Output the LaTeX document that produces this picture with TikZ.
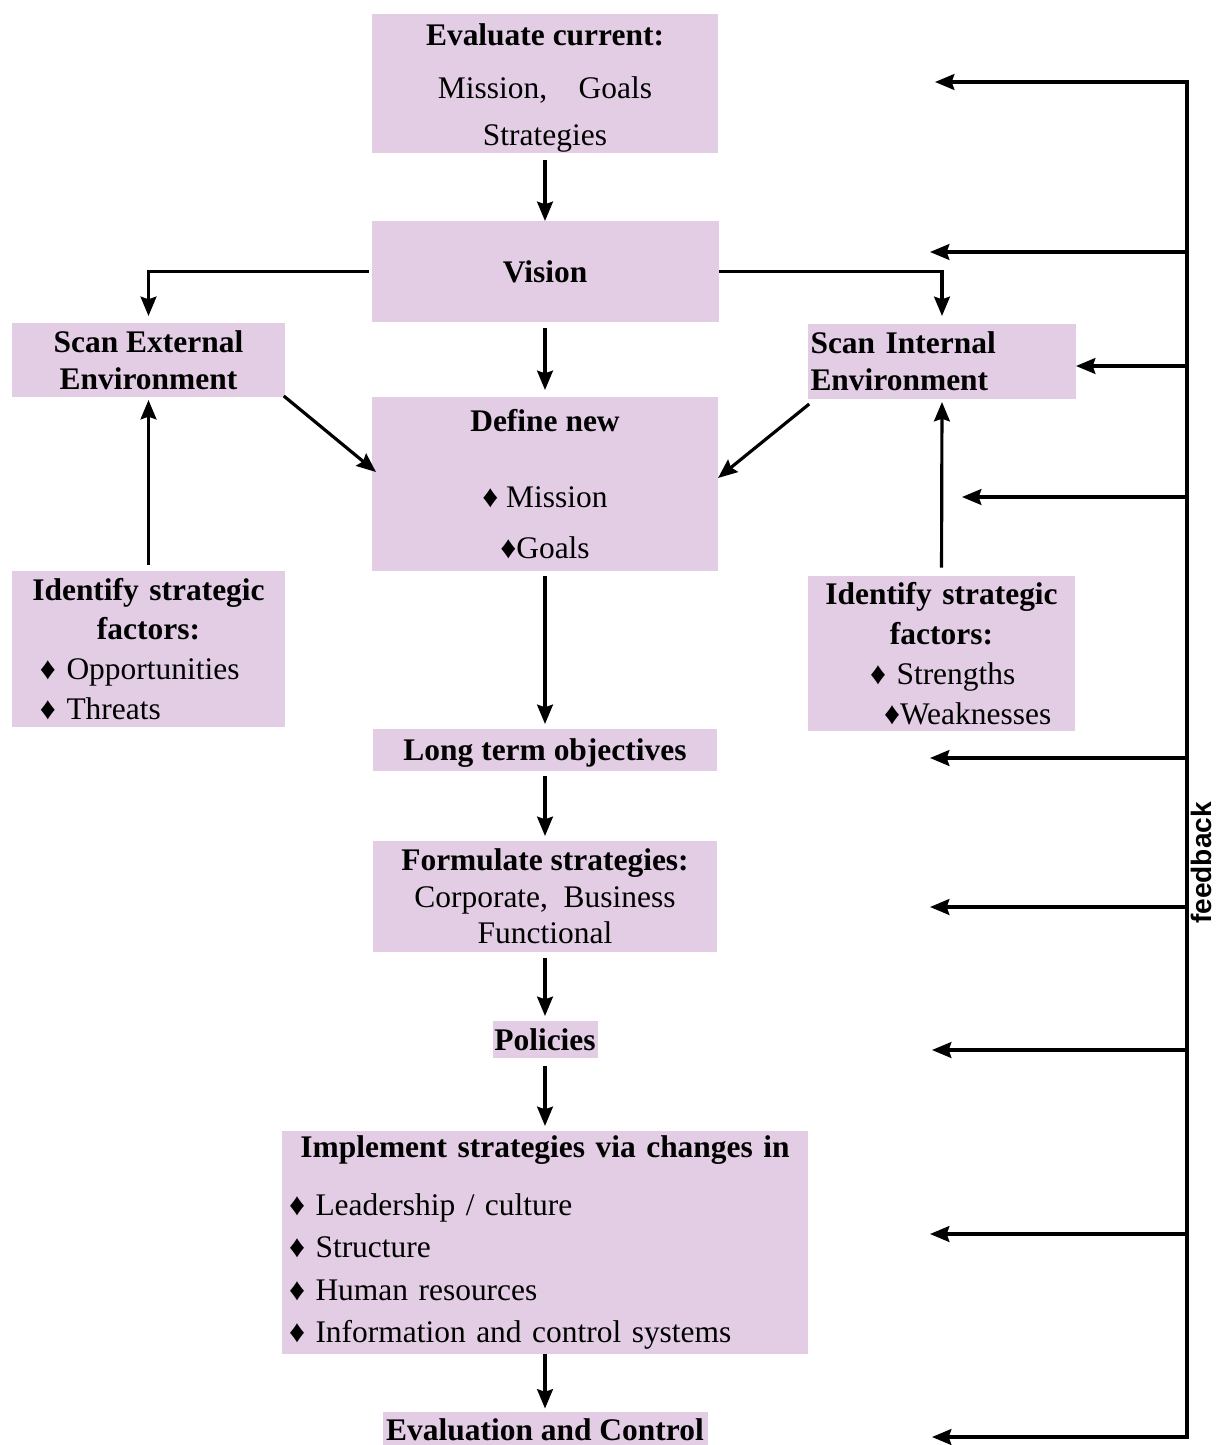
\documentclass[tikz,border=0pt]{standalone}
\usepackage{fontspec}
\setmainfont{Liberation Serif}
\setsansfont{Liberation Sans}
\usepackage{xcolor}
\usepackage{tikz}
\usetikzlibrary{arrows.meta}

\definecolor{boxfill}{RGB}{226,205,228}

\begin{document}
\begin{tikzpicture}
\tikzstyle{arrow} = [line width=1.8pt,line cap=rect,->,>={Stealth[length=11pt,width=9pt,inset=1.5pt]}]
\tikzstyle{line} = [line width=1.8pt,line cap=rect]
\tikzstyle{box} = [fill=boxfill,outer sep=0,inner sep=0,align=center,font=\fontsize{17.9}{24}\selectfont]

\useasboundingbox (0,0) rectangle (24.32,-28.9);

% main column
\node(eval)[box, minimum width=6.92cm, minimum height=2.78cm] at (10.9,-1.67)
  {\rule{0pt}{17.5pt}\textbf{Evaluate current:}\\[6pt]Mission,\quad Goals\\[3pt]Strategies};
\node(vision)[box, below of=eval, node distance=3.76cm, minimum width=6.94cm, minimum height=2.02cm]{\textbf{Vision}};
\node(define)[box, below of=vision, node distance=4.25cm, minimum width=6.92cm, minimum height=3.48cm]
  {\textbf{Define new}\\[19pt]♦ Mission\\[5pt]♦Goals};
\node(longterm)[box, below of=define, node distance=5.32cm, minimum width=6.88cm, minimum height=0.84cm]{\rule{0pt}{16pt}\textbf{Long term objectives}};
\node(formulate)[box, below of=longterm, node distance=2.93cm, minimum width=6.88cm, minimum height=2.22cm,
  font=\fontsize{17.9}{20.7}\selectfont]{\textbf{Formulate strategies:}\\Corporate,\ \ Business\\Functional};
\node(policies)[box, below of=formulate, node distance=2.86cm, minimum width=2.1cm, minimum height=0.74cm]{\textbf{Policies}};
\node(implement)[box, below of=policies, node distance=4.06cm, text width=10.52cm, minimum height=4.46cm, align=left]
  {{\centering\textbf{Implement strategies via changes in}\\[9pt]\par}
   \hspace*{0.14cm}♦ Leadership / culture\\\hspace*{0.14cm}♦ Structure\\
   \hspace*{0.14cm}♦ Human resources\\\hspace*{0.14cm}♦ Information and control systems};
\node(evalctrl)[box, below of=implement, node distance=3.75cm, minimum width=6.5cm, minimum height=0.74cm]{\textbf{Evaluation and Control}};

% side boxes
\node(scanext)[box, minimum width=5.46cm, minimum height=1.48cm, font=\fontsize{17.9}{21}\selectfont] at (2.97,-7.2)
  {\textbf{Scan External}\\\textbf{Environment}};
\node(scanint)[box, text width=5.26cm, inner xsep=0.05cm, minimum height=1.5cm, align=left,
  font=\fontsize{17.9}{21}\selectfont] at (18.84,-7.23)
  {\textbf{Scan Internal}\\\textbf{Environment}};
\node(idext)[box, text width=5.46cm, minimum height=3.12cm, align=left, font=\fontsize{17.9}{22.7}\selectfont] at (2.97,-12.98)
  {{\centering\textbf{Identify strategic}\\\textbf{factors:}\par}
   \hspace*{0.56cm}♦ Opportunities\\\hspace*{0.56cm}♦ Threats};
\node(idint)[box, text width=5.34cm, minimum height=3.1cm, align=left, font=\fontsize{17.9}{22.7}\selectfont] at (18.83,-13.07)
  {{\centering\textbf{Identify strategic}\\\textbf{factors:}\par}
   \hspace*{1.24cm}♦ Strengths\\\hspace*{1.52cm}♦Weaknesses};

% connectors
\draw [arrow, shorten <=0.18cm] (eval) -- (vision);
\draw [arrow, shorten <=0.16cm, shorten >=0.14cm] (vision) -- (define);
\draw [arrow, shorten <=0.14cm, shorten >=0.1cm] (define) -- (longterm);
\draw [arrow, shorten <=0.14cm, shorten >=0.1cm] (longterm) -- (formulate);
\draw [arrow, shorten <=0.16cm, shorten >=0.1cm] (formulate) -- (policies);
\draw [arrow, shorten <=0.2cm, shorten >=0.1cm] (policies) -- (implement);
\draw [arrow, shorten <=0.04cm, shorten >=0.06cm] (implement) -- (evalctrl);

\draw [arrow, shorten <=0.08cm, shorten >=0.14cm] (vision.west) -| (scanext.north);
\draw [arrow, shorten <=0.04cm, shorten >=0.16cm] (vision.east) -| (scanint.north);
\draw [arrow] (scanext.south east) -- ([shift={(0.08,0.24)}]define.west);
\draw [arrow] ([yshift=-0.12cm]scanint.south west) -- ([yshift=0.12cm]define.east);
\draw [arrow, shorten <=0.16cm, shorten >=0.06cm] (idext.north) -- (scanext.south);
\draw [arrow, shorten <=0.2cm, shorten >=0.06cm] (idint.north) -- (scanint.south);

% feedback loop
\coordinate (fbtop) at (23.74,-1.64);
\coordinate (fbbot) at (23.74,-28.74);
\draw [line] (fbtop) -- (fbbot);
\foreach \y/\tx [count=\i] in {-1.64/18.7, -5.04/18.6, -9.94/19.24, -15.16/18.6, -18.14/18.6, -21.0/18.64, -24.68/18.6, -28.74/18.64}{
  \coordinate (fb\i) at (23.74,\y);
  \coordinate (tip\i) at (\tx,\y);
  \draw [arrow] (fb\i) -- (tip\i);
}
\coordinate (fbint) at (23.74,-7.32);
\draw [arrow] (fbint) -- (fbint -| scanint.east);
\node(fblabel)[font=\sffamily\bfseries\fontsize{16}{16}\selectfont, rotate=90, inner sep=0] at (24.02,-17.26) {feedback};
\end{tikzpicture}
\end{document}
